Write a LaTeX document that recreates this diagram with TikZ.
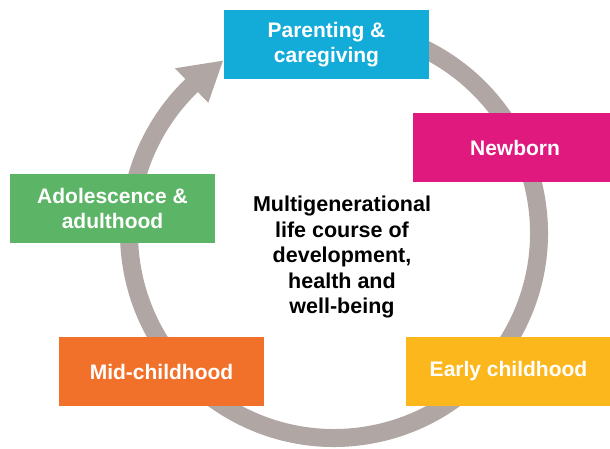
\documentclass[tikz,border=0pt]{standalone}
\usepackage{fontspec}
\setmainfont{Liberation Sans}
\definecolor{cyanbox}{HTML}{13ACD9}
\definecolor{magbox}{HTML}{E0197F}
\definecolor{greenbox}{HTML}{5CB567}
\definecolor{orangebox}{HTML}{F2712A}
\definecolor{yellowbox}{HTML}{FBB71C}
\definecolor{ringgray}{HTML}{B0A6A3}
\begin{document}
\begin{tikzpicture}[x=1pt,y=1pt,
  stagebox/.style={fill=#1, minimum width=205pt, minimum height=69pt, inner sep=0pt,
    text=white, font=\bfseries\fontsize{21}{25}\selectfont, align=center},
  ring/.style={ringgray, line width=18pt}]
\useasboundingbox (0,0) rectangle (610,448);
\coordinate (c) at (334,215);
% ring with arrow
\draw[ring] ([shift={(100:205)}]c) arc[start angle=100, end angle=-226.5, radius=205];
\fill[ringgray] ([shift={(134:181)}]c) -- ([shift={(134:229)}]c) -- ([shift={(122.8:205)}]c) -- cycle;
% stage boxes
\node[stagebox=cyanbox] (parent) at (326.5,403.5) {Parenting \&\\caregiving};
\node[stagebox=magbox] (newborn) at (515,300.5) {Newborn};
\node[stagebox=greenbox] (adol) at (112.5,239.5) {Adolescence \&\\adulthood};
\node[stagebox=orangebox] (mid) at (161.5,76.5) {Mid-childhood};
\node[stagebox=yellowbox] (early) at (508.5,76.5) {Early childhood};
% centre text
\node[align=center, font=\bfseries\fontsize{21.5}{25.5}\selectfont, text=black, inner sep=0pt] (centre) at (342,191)
  {Multigenerational\\life course of\\development,\\health and\\well-being};
\end{tikzpicture}
\end{document}
